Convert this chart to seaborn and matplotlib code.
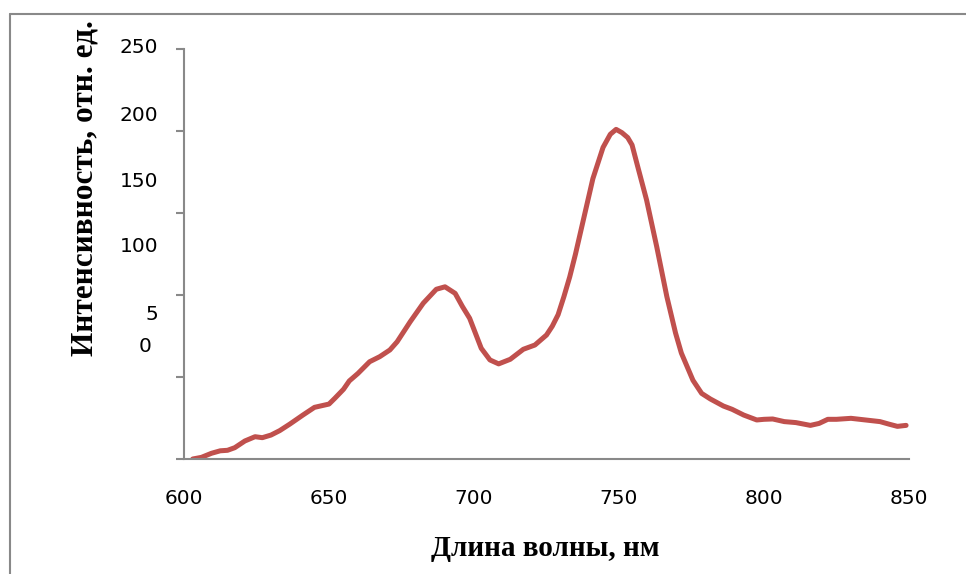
import matplotlib
matplotlib.use("Agg")
import matplotlib.pyplot as plt
import matplotlib.transforms as mtransforms
from matplotlib.lines import Line2D
import numpy as np
import pandas as pd
import seaborn as sns

# Emission spectrum
wavelength = [603, 606, 609.5, 612.5, 615, 617.5, 621, 624.5, 627, 630,
              633, 636.5, 641, 645, 650, 652, 655, 657, 660, 664,
              667.5, 671, 673.5, 678, 682.5, 687, 690, 693.5, 696, 698.5,
              702.5, 705.5, 708.5, 712.5, 717, 721, 725, 727, 729, 731,
              733, 735, 738, 741, 744.5, 747, 749, 751, 753, 754.5,
              756.5, 759.5, 763, 766.5, 769.5, 771.5, 775.5, 778.5, 781.5, 786,
              789, 793, 797.5, 800, 803, 807, 811, 816, 819, 822,
              825, 830, 834, 840, 843, 846, 849]
intensity = [0, 1, 3.5, 5, 5.3, 6.9, 11, 13.6, 13, 14.6,
             17.3, 21.3, 26.8, 31.5, 33.5, 37, 42.5, 47.6, 52.2, 59.3,
             62.4, 66.5, 71.5, 83.7, 95, 103.5, 105, 101, 93, 85.8,
             67.5, 60.4, 58, 60.8, 66.9, 69.5, 75.6, 81, 88, 99,
             111, 125, 148, 171, 190, 198, 201, 199, 196, 191.5,
             178, 158, 129.5, 99, 76.8, 64.6, 48, 40, 36.6, 32.3,
             30.3, 26.8, 23.8, 24.2, 24.4, 22.8, 22.2, 20.5, 21.7, 24.2,
             24.2, 24.8, 24, 22.8, 21.3, 19.9, 20.5]

x_ticks = [600, 650, 700, 750, 800, 850]
y_ticks = [0, 50, 100, 150, 200, 250]
# y labels as printed, with their vertical anchors in data units
y_label_text = ["250", "200", "150", "100", "5", "0"]
y_label_pos = [251, 209.5, 169.5, 129.5, 88, 68.5]
y_label_dx = [-26, -26, -26, -26, -26, -32]

xlabel = "Длина волны, нм"
ylabel = "Интенсивность, отн. ед."

df = pd.DataFrame({"wl": wavelength, "I": intensity})

sns.set_style("white")
plt.rcParams["font.family"] = ["DejaVu Sans"]
plt.rcParams["text.color"] = "black"
plt.rcParams["xtick.labelcolor"] = "black"
plt.rcParams["ytick.labelcolor"] = "black"

W, H = 966, 574
fig = plt.figure(figsize=(W / 100, H / 100), dpi=100)
ax = fig.add_axes([184 / W, 1 - 459 / H, (909 - 184) / W, (459 - 49) / H])

sns.lineplot(data=df, x="wl", y="I", ax=ax, color="#C0504D", linewidth=3.6,
             solid_capstyle="round", solid_joinstyle="round")

ax.set_xlim(600, 850)
ax.set_ylim(0, 250)
ax.set_xticks(x_ticks)
ax.set_xticklabels([str(t) for t in x_ticks], fontsize=14.5, color="black")
ax.set_yticks(y_ticks)
ax.set_yticklabels([""] * len(y_ticks))
ax.set_xlabel("")
ax.set_ylabel("")

grey = "#898989"
for side in ["top", "right"]:
    ax.spines[side].set_visible(False)
for side in ["left", "bottom"]:
    ax.spines[side].set_color(grey)
    ax.spines[side].set_linewidth(1.5)
ax.tick_params(axis="both", direction="out", length=5.5, width=1.5, color=grey)
ax.tick_params(axis="x", pad=16)
ax.tick_params(axis="y", left=True)

for txt, yv, dx in zip(y_label_text, y_label_pos, y_label_dx):
    trans = mtransforms.offset_copy(
        mtransforms.blended_transform_factory(ax.transAxes, ax.transData),
        fig=fig, x=dx, y=0, units="dots")
    ax.text(0, yv, txt, transform=trans, ha="right", va="center",
            fontsize=14.5, color="black", clip_on=False)

serif = ["Liberation Serif", "DejaVu Serif"]
fig.text(545 / W, 1 - 548 / H, xlabel, ha="center", va="center",
         fontsize=21, fontweight="bold", family=serif, color="black")
fig.text(85 / W, 1 - 188 / H, ylabel, ha="center", va="center",
         rotation=90, fontsize=22.5, fontweight="bold", family=serif,
         color="black")

# chart frame
fig.add_artist(Line2D([9.5 / W, 9.5 / W], [0, 1 - 14 / H],
                      transform=fig.transFigure, color=grey, linewidth=1.5))
fig.add_artist(Line2D([9.5 / W, 1], [1 - 14 / H, 1 - 14 / H],
                      transform=fig.transFigure, color=grey, linewidth=1.5))

fig.savefig("out.png", dpi=100, facecolor="white")
